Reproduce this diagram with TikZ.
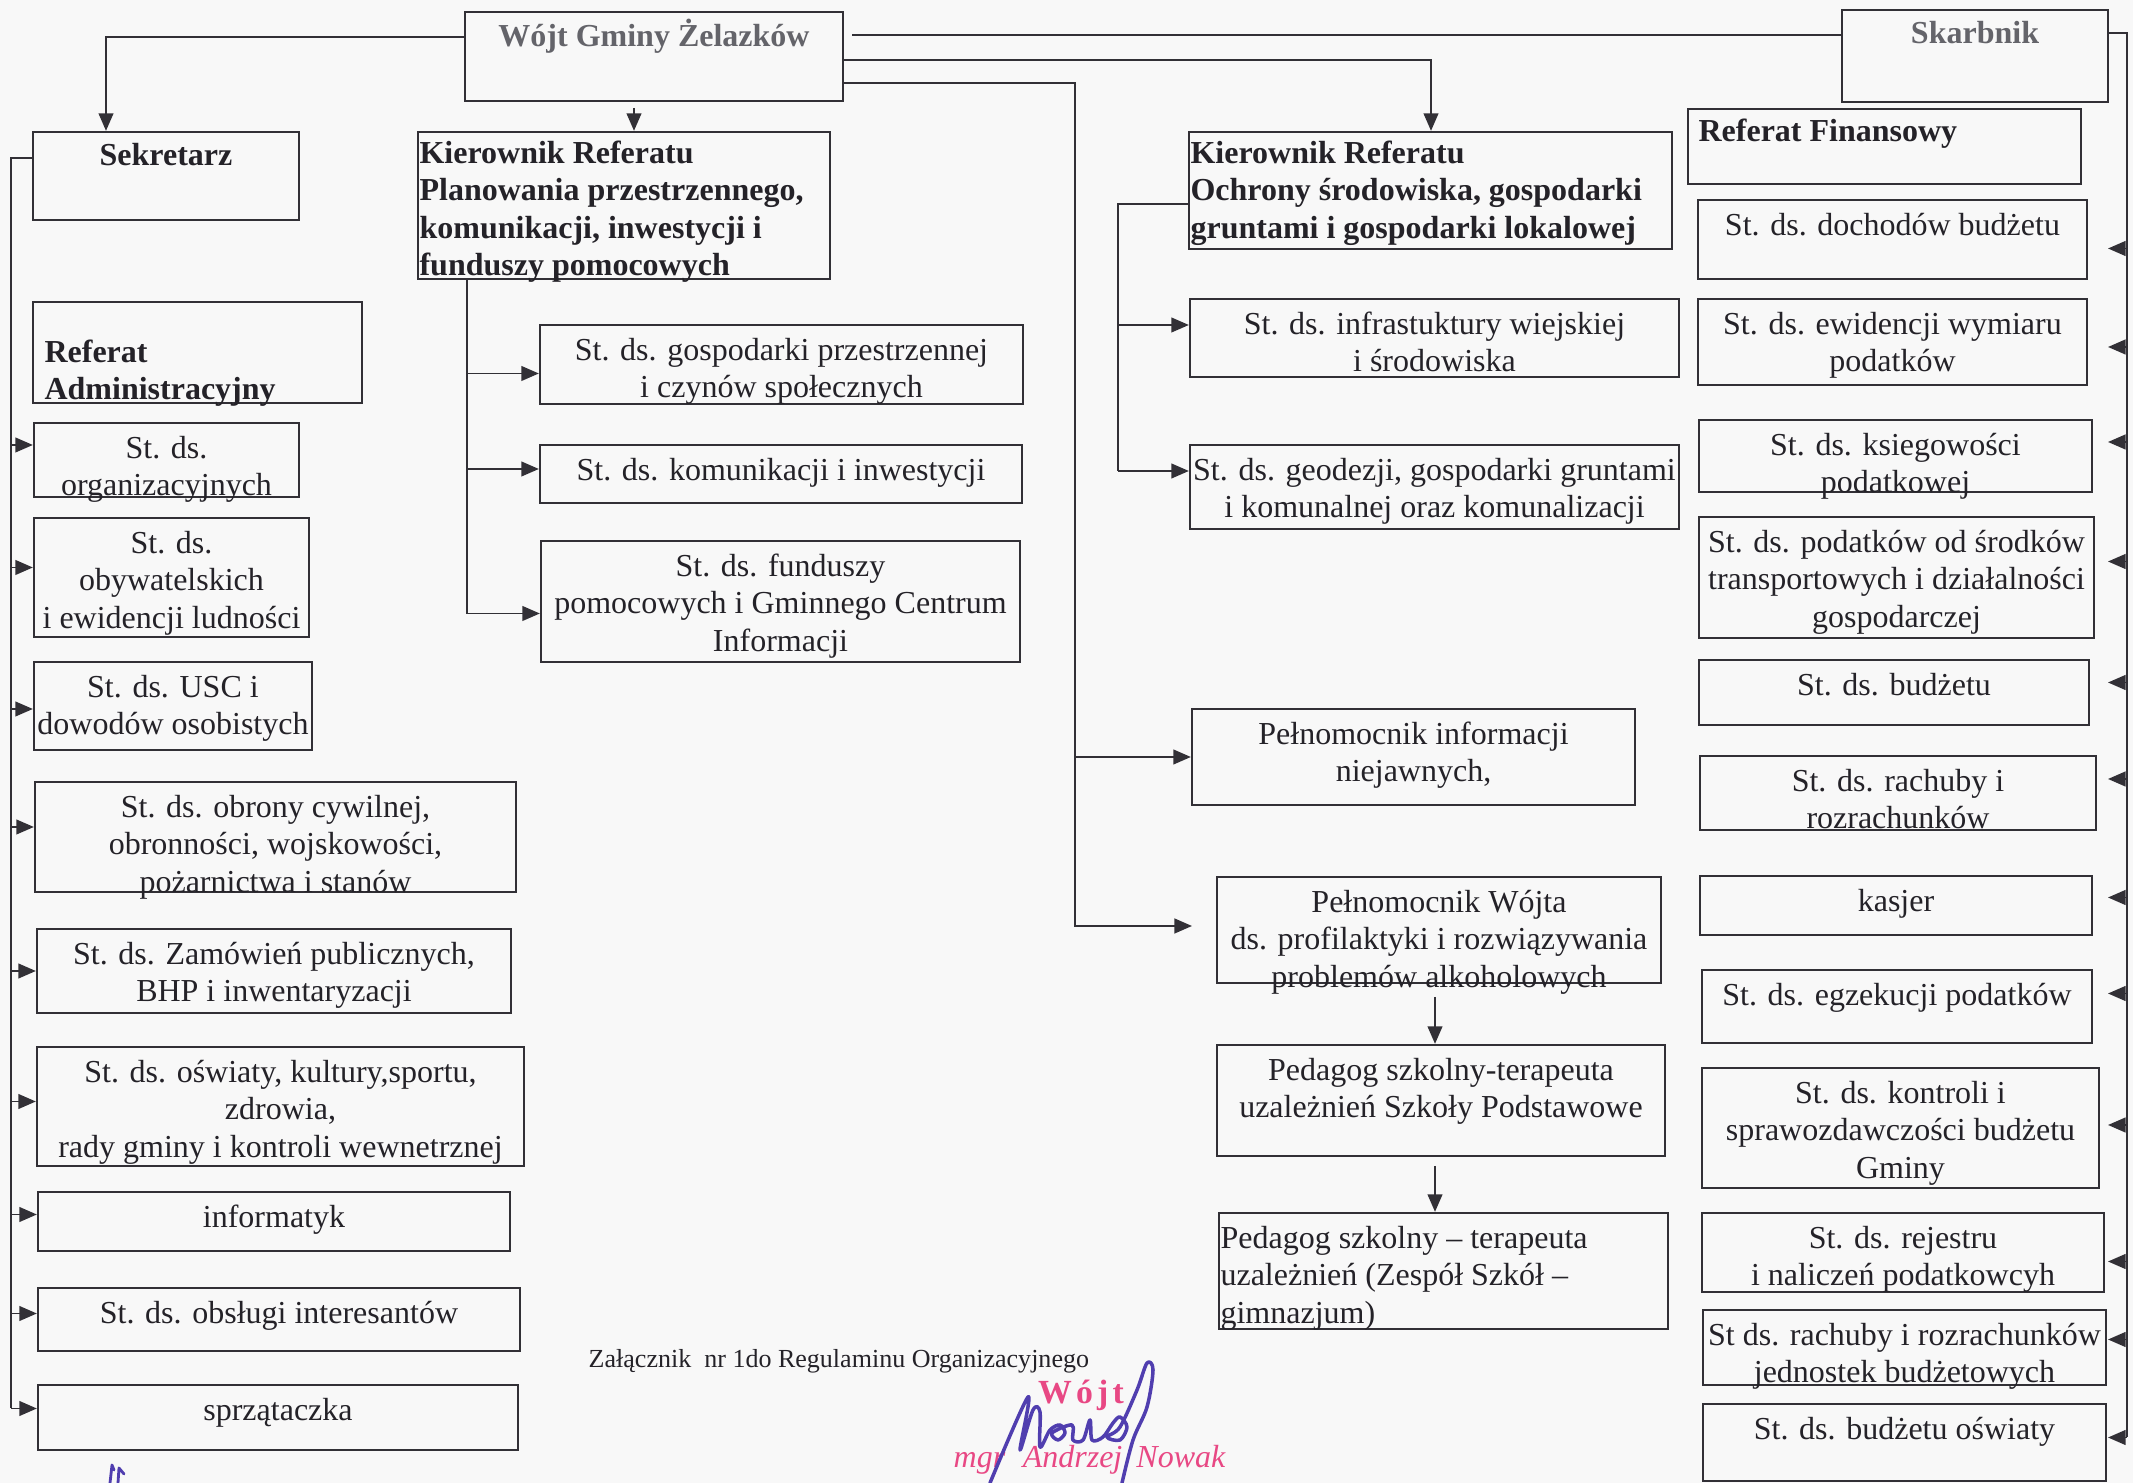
\documentclass[tikz,border=0pt]{standalone}
\usepackage{fontspec}
\setmainfont{Liberation Serif}
\usetikzlibrary{arrows.meta,fit}
\definecolor{ink}{RGB}{36,34,40}
\definecolor{lin}{RGB}{50,48,54}
\definecolor{paper}{RGB}{248,248,248}
\definecolor{gr}{RGB}{100,100,106}
\definecolor{stamp}{RGB}{232,72,132}
\definecolor{pen}{RGB}{80,62,175}
\tikzset{
  bx/.style={draw=lin, line width=0.65pt, inner sep=0pt, rectangle},
  tx/.style={inner sep=0pt, text=ink, font=\fontsize{9.1}{10.6}\selectfont, align=center, anchor=north},
  txl/.style={tx, align=left, anchor=north west},
  bold/.style={font=\fontsize{9.1}{10.6}\selectfont\bfseries},
  con/.style={draw=lin, line width=0.55pt},
  arr/.style={con, -{Triangle[length=5pt,width=4.2pt]}},
  sig/.style={draw=pen, line width=1.0pt, line cap=round, line join=round},
}
\newcommand\cbox[7][]{%
  \node[bx, fit={(#3,#4)(#5,#6)}] (#2) {};
  \node[tx,#1] (#2t) at ([yshift=-0.10cm]#2.north) {\strut #7};}
\newcommand\lbox[7][]{%
  \node[bx, fit={(#3,#4)(#5,#6)}] (#2) {};
  \node[txl,#1] (#2t) at ([xshift=0.02cm,yshift=-0.10cm]#2.north west) {\strut #7};}
\begin{document}
\begin{tikzpicture}[x=0.01cm,y=-0.01cm]
\fill[paper] (0,0) rectangle (2133,1483);
\useasboundingbox (0,0) rectangle (2133,1483);

% ---------- top ----------
\cbox[bold,text=gr,yshift=0.02cm]{wojt}{465}{12}{843}{101}{Wójt Gminy Żelazków}
\cbox[bold,text=gr,yshift=0.02cm]{skb}{1842}{10}{2108}{102}{Skarbnik}

% ---------- left column ----------
\cbox[bold,yshift=0.02cm]{sek}{33}{132}{299}{220}{Sekretarz}
\lbox[bold,xshift=0.10cm,yshift=-0.25cm]{refadm}{33}{302}{362}{403}{Referat\\Administracyjny}
\cbox{org}{34}{423}{299}{497}{St. ds.\\organizacyjnych}
\cbox{oby}{34}{518}{309}{637}{St. ds.\\obywatelskich\\i ewidencji ludności}
\cbox{usc}{34}{662}{312}{750}{St. ds. USC i\\dowodów osobistych}
\cbox{obr}{35}{782}{516}{892}{St. ds. obrony cywilnej,\\obronności, wojskowości,\\pożarnictwa i stanów}
\cbox{zam}{37}{929}{511}{1013}{St. ds. Zamówień publicznych,\\BHP i inwentaryzacji}
\cbox{osw}{37}{1047}{524}{1166}{St. ds. oświaty, kultury,sportu,\\zdrowia,\\rady gminy i kontroli wewnetrznej}
\cbox{inf}{38}{1192}{510}{1251}{informatyk}
\cbox{obs}{38}{1288}{520}{1351}{St. ds. obsługi interesantów}
\cbox{spr}{38}{1385}{518}{1450}{sprzątaczka}

% ---------- middle ----------
\lbox[bold,yshift=0.04cm]{krp}{418}{132}{830}{279}{Kierownik Referatu\\Planowania przestrzennego,\\komunikacji, inwestycji i\\funduszy pomocowych}
\cbox{gp}{540}{325}{1023}{404}{St. ds. gospodarki przestrzennej\\i czynów społecznych}
\cbox{kom}{540}{445}{1022}{503}{St. ds. komunikacji i inwestycji}
\cbox{fun}{541}{541}{1020}{662}{St. ds. funduszy\\pomocowych i Gminnego Centrum\\Informacji}

\lbox[bold,yshift=0.04cm]{kro}{1189}{132}{1672}{249}{Kierownik Referatu\\Ochrony środowiska, gospodarki\\gruntami i gospodarki lokalowej}
\cbox{infr}{1190}{299}{1679}{377}{St. ds. infrastuktury wiejskiej\\i środowiska}
\cbox{geo}{1190}{445}{1679}{529}{St. ds. geodezji, gospodarki gruntami\\i komunalnej oraz komunalizacji}
\cbox{pin}{1192}{709}{1635}{805}{Pełnomocnik informacji\\niejawnych,}
\cbox{pw}{1217}{877}{1661}{983}{Pełnomocnik Wójta\\ds. profilaktyki i rozwiązywania\\problemów alkoholowych}
\cbox{ped1}{1217}{1045}{1665}{1156}{Pedagog szkolny-terapeuta\\uzależnień Szkoły Podstawowe}
\lbox{ped2}{1219}{1213}{1668}{1329}{Pedagog szkolny – terapeuta\\uzależnień (Zespół Szkół –\\gimnazjum)}

% ---------- right column ----------
\lbox[bold,xshift=0.09cm,yshift=0.03cm]{rf}{1688}{109}{2081}{184}{Referat Finansowy}
\cbox{r1}{1698}{200}{2087}{279}{St. ds. dochodów budżetu}
\cbox{r2}{1698}{299}{2087}{385}{St. ds. ewidencji wymiaru\\podatków}
\cbox{r3}{1699}{420}{2092}{492}{St. ds. ksiegowości\\podatkowej}
\cbox{r4}{1699}{517}{2094}{638}{St. ds. podatków od środków\\transportowych i działalności\\gospodarczej}
\cbox{r5}{1699}{660}{2089}{725}{St. ds. budżetu}
\cbox{r6}{1700}{756}{2096}{830}{St. ds. rachuby i\\rozrachunków}
\cbox{r7}{1700}{876}{2092}{935}{kasjer}
\cbox{r8}{1702}{970}{2092}{1043}{St. ds. egzekucji podatków}
\cbox{r9}{1702}{1068}{2099}{1188}{St. ds. kontroli i\\sprawozdawczości budżetu\\Gminy}
\cbox{r10}{1702}{1213}{2104}{1292}{St. ds. rejestru\\i naliczeń podatkowcyh}
\cbox{r11}{1703}{1310}{2106}{1385}{St ds. rachuby i rozrachunków\\jednostek budżetowych}
\cbox{r12}{1703}{1404}{2106}{1481}{St. ds. budżetu oświaty}

% ---------- connectors ----------
% Wojt -> Sekretarz
\coordinate (kSek) at (106,37);
\draw[arr] (wojt.west |- kSek) -| (sek.north -| kSek);
% Wojt -> KRP
\coordinate (kKrp) at (634,108);
\draw[arr] (kKrp) -- (krp.north -| kKrp);
% Wojt -> Skarbnik
\coordinate (kSkb) at (852,35);
\draw[con] (kSkb) -- (skb.west |- kSkb);
% Wojt -> KRO
\coordinate (kKro) at (1431,60);
\draw[arr] (wojt.east |- kKro) -| (kro.north -| kKro);
% Wojt -> Pelnomocnicy
\coordinate (kPel) at (1075,83);
\coordinate (kPelEnd) at (1192,926);
\draw[arr] (wojt.east |- kPel) -| (kPel |- kPelEnd) -- (kPelEnd);
\draw[arr] (kPel |- pin.west) -- (pin.west);
% chain
\coordinate (kA1) at (1435,997);
\coordinate (kA2) at (1435,1166);
\draw[arr] (kA1) -- (ped1.north -| kA1);
\draw[arr] (kA2) -- (ped2.north -| kA2);

% Skarbnik -> right column
\coordinate (kR) at (2127,33);
\coordinate (kRt) at (2108,0);
\draw[con] (skb.east |- kR) -- (kR) -- ([yshift=0.05cm]kR |- r12.east);
\foreach \n/\s in {r1/-9,r2/-5,r3/14,r4/16,r5/10,r6/14,r7/8,r8/13,r9/3,r10/-9,r11/8,r12/5}
  \draw[arr] ([yshift=\s*0.01cm]kR |- \n.east) -- ([yshift=\s*0.01cm]kRt |- \n.east);

% Sekretarz -> left column
\coordinate (kL) at (11,158);
\draw[con] (sek.west |- kL) -- (kL) -- ([yshift=0.09cm]kL |- spr.west);
\foreach \n/\s in {org/15,oby/10,usc/-3,obr/10,zam/0,osw/5,inf/7,obs/6,spr/9}
  \draw[arr] ([yshift=\s*0.01cm]kL |- \n.west) -- ([yshift=\s*0.01cm]\n.west);

% KRP -> children
\coordinate (kP) at (467,0);
\draw[con] (krp.south -| kP) -- ([yshift=-0.125cm]kP |- fun.west);
\foreach \n/\s in {gp/-9,kom/5,fun/-12}
  \draw[arr] ([yshift=\s*0.01cm]kP |- \n.west) -- ([yshift=\s*0.01cm]\n.west);

% KRO -> children
\coordinate (kO) at (1118,204);
\draw[con] (kro.west |- kO) -- (kO) -- ([yshift=0.16cm]kO |- geo.west);
\foreach \n/\s in {infr/13,geo/16}
  \draw[arr] ([yshift=\s*0.01cm]kO |- \n.west) -- ([yshift=\s*0.01cm]\n.west);

% ---------- annotation & signature ----------
\node[inner sep=0pt, anchor=base west, text=ink, font=\fontsize{7.4}{9}\selectfont] (zal) at (588,1368) {Załącznik~~nr 1do Regulaminu Organizacyjnego};
\node[inner sep=0pt, anchor=base, text=stamp, font=\fontsize{9.6}{11}\selectfont\bfseries] (stw) at (1081,1403) {W\kern1.2pt ó\kern1.2pt j\kern1.2pt t};
\node[inner sep=0pt, anchor=base west, text=stamp, font=\fontsize{9.1}{11}\selectfont\itshape] (stn) at (953,1468) {mgr\hspace{5pt}Andrzej\hspace{4pt}Nowak};
\draw[sig] plot[smooth, tension=0.55] coordinates {(990,1483) (1028,1397) (1020,1450) (1033,1410) (1040,1412) (1040,1447) (1050,1430) (1060,1425) (1065,1433) (1058,1440) (1052,1433) (1072,1425) (1073,1440) (1083,1440) (1090,1420) (1092,1440) (1103,1437) (1113,1423) (1120,1417) (1127,1427) (1120,1440) (1107,1437) (1120,1427) (1137,1390) (1147,1363) (1153,1370) (1147,1407) (1133,1440) (1122,1483)};
\draw[sig, line width=0.8pt] (110,1483) -- (112,1465) -- (114,1470);
\draw[sig, line width=0.8pt] (118,1483) -- (119,1468) -- (124,1474);
\end{tikzpicture}
\end{document}
